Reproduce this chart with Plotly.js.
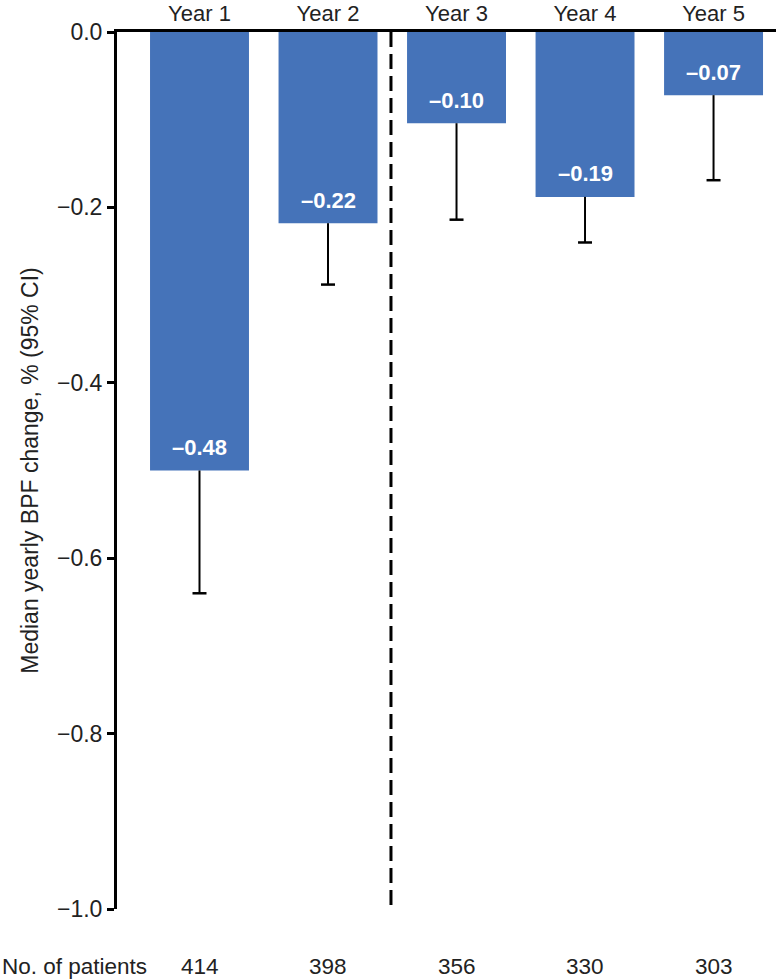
<!DOCTYPE html>
<html>
<head>
<meta charset="utf-8">
<script src="https://cdn.plot.ly/plotly-3.0.1.min.js"></script>
<style>
  html, body { margin: 0; padding: 0; background: #fff; }
  #chart { width: 776px; height: 980px; }
</style>
</head>
<body>
<div id="chart"></div>
<script>
// ---- data ----
const years = ['Year 1', 'Year 2', 'Year 3', 'Year 4', 'Year 5'];
const medianChange = [-0.50, -0.218, -0.104, -0.188, -0.072];
const lowerCI = [-0.64, -0.288, -0.214, -0.240, -0.169];
const barLabels = ['\u20130.48', '\u20130.22', '\u20130.10', '\u20130.19', '\u20130.07'];
const patients = [414, 398, 356, 330, 303];
const yTicks = [0, -0.2, -0.4, -0.6, -0.8, -1.0];

const FONT = 'Liberation Sans, Arial, Helvetica, sans-serif';
const TXT = '#222222';
const BAR = '#4573B9';

const errMinus = medianChange.map((v, i) => v - lowerCI[i]);

const bars = {
  type: 'bar',
  x: years,
  y: medianChange,
  marker: { color: BAR, line: { width: 0 } },
  error_y: {
    type: 'data',
    symmetric: false,
    array: medianChange.map(() => 0),
    arrayminus: errMinus,
    color: '#000',
    thickness: 2,
    width: 0
  },
  hoverinfo: 'skip',
  showlegend: false
};

const caps = {
  type: 'scatter',
  mode: 'markers',
  x: years,
  y: lowerCI,
  marker: { symbol: 'line-ew', size: 10, color: '#000', line: { width: 2.5, color: '#000' } },
  hoverinfo: 'skip',
  showlegend: false
};

const annotations = [];
years.forEach((yr, i) => {
  annotations.push({
    x: yr, y: medianChange[i], xref: 'x', yref: 'y',
    text: '<b>' + barLabels[i] + '</b>',
    showarrow: false, yshift: 23, yanchor: 'middle', xanchor: 'center',
    font: { family: FONT, size: 22, color: '#ffffff' }
  });
  annotations.push({
    x: yr, y: -0.065, xref: 'x', yref: 'paper',
    text: String(patients[i]),
    showarrow: false, yanchor: 'middle', xanchor: 'center',
    font: { family: FONT, size: 22.5, color: TXT }
  });
});
annotations.push({
  x: -117 / 659, y: -0.065, xref: 'paper', yref: 'paper',
  text: 'No. of patients',
  showarrow: false, yanchor: 'middle', xanchor: 'left',
  font: { family: FONT, size: 22.5, color: TXT }
});

const layout = {
  width: 776,
  height: 980,
  margin: { l: 117, r: 0, t: 32, b: 71, pad: 0 },
  paper_bgcolor: '#ffffff',
  plot_bgcolor: '#ffffff',
  bargap: 0.23,
  font: { family: FONT, size: 23, color: TXT },
  xaxis: {
    type: 'category',
    side: 'top',
    range: [-0.642, 4.486],
    showline: true, linecolor: '#000', linewidth: 3,
    ticks: '', showgrid: false, zeroline: false,
    tickfont: { family: FONT, size: 22, color: TXT },
    ticklabelstandoff: -1,
    fixedrange: true
  },
  yaxis: {
    range: [-1.0, 0],
    tickvals: yTicks,
    tickformat: '.1f',
    showline: true, linecolor: '#000', linewidth: 3,
    ticks: 'outside', ticklen: 7, tickwidth: 3, tickcolor: '#000',
    showgrid: false, zeroline: false,
    tickfont: { family: FONT, size: 23, color: TXT },
    ticklabelstandoff: 0,
    title: {
      text: 'Median yearly BPF change, % (95% CI)',
      font: { family: FONT, size: 23, color: TXT },
      standoff: 12
    },
    fixedrange: true
  },
  shapes: [{
    type: 'line', xref: 'x', yref: 'y',
    x0: 1.49, x1: 1.49, y0: 0, y1: -1.005,
    line: { color: '#000', width: 3, dash: '15px,7px' }
  }],
  annotations: annotations
};

Plotly.newPlot('chart', [bars, caps], layout, { displayModeBar: false, staticPlot: true });
</script>
</body>
</html>
